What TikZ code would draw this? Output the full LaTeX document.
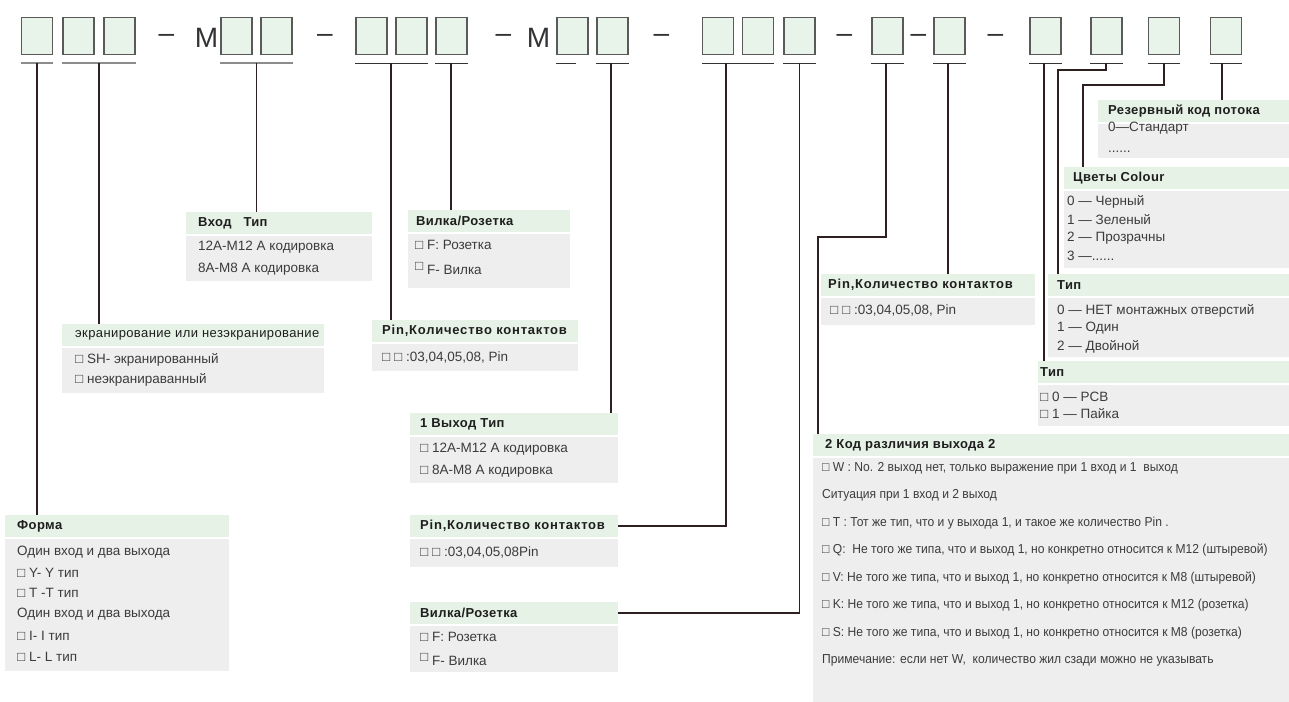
\documentclass[tikz,border=0pt]{standalone}
\usepackage{fontspec}
\setmainfont{Liberation Sans}
\newfontfamily\narrowfont[FakeStretch=0.93]{Liberation Sans}
\newfontfamily\headfont[LetterSpace=3]{Liberation Sans}
\newfontfamily\wideheadfont[LetterSpace=6]{Liberation Sans}
\usetikzlibrary{positioning}

\definecolor{cellfill}{HTML}{E8F3E9}
\definecolor{cellline}{HTML}{5A5A5A}
\definecolor{signc}{HTML}{333333}
\definecolor{ulg}{HTML}{8C8C8C}
\definecolor{uld}{HTML}{333333}
\definecolor{linkc}{HTML}{2E2020}
\definecolor{headc}{HTML}{E6F2E6}
\definecolor{bodyc}{HTML}{EEEEEE}
\definecolor{headtxt}{HTML}{1E1E1E}
\definecolor{bodytxt}{HTML}{3C3C3C}

% header strip, grey body and title of one panel
\newcommand{\infopanel}[7]{%
  \node[headbox,minimum width=#4pt] (#1) at (#2,#3) {};
  \node[bodybox,minimum width=#4pt,minimum height=#5pt] (#1b) at ([yshift=-1.5pt]#1.south west) {};
  \node[htext] (#1t) at ([xshift=#6pt]#1.west) {#7};}

\begin{document}
\begin{tikzpicture}[x=1pt,y=-1pt,
  cell/.style={draw=cellline,fill=cellfill,line width=1.1pt,minimum width=31pt,minimum height=37.5pt,inner sep=0pt},
  sign/.style={anchor=base,inner sep=0pt,text=signc,font=\fontsize{28}{30}\selectfont},
  ulgray/.style={draw=ulg,line width=1.8pt},
  uldark/.style={draw=uld,line width=1.3pt},
  link/.style={draw=linkc,line width=1.5pt},
  headbox/.style={fill=headc,anchor=north west,minimum height=22pt,inner sep=0pt},
  bodybox/.style={fill=bodyc,anchor=north west,inner sep=0pt},
  htext/.style={anchor=west,inner sep=0pt,text=headtxt,font=\headfont\bfseries\fontsize{13}{15}\selectfont},
  txt/.style={anchor=west,inner sep=0pt,text=bodytxt,font=\fontsize{13.5}{15}\selectfont},
  ntxt/.style={txt,font=\narrowfont\fontsize{13}{15}\selectfont}]
\useasboundingbox (0,0) rectangle (1289,701);

% code cells
\foreach \n/\x in {1/37,2/78.5,3/119.5,4/236.5,5/276.5,6/371.5,7/411.5,8/451.5,9/572.5,10/612.5,
  11/718,12/758,13/799.5,14/887.5,15/949.5,16/1045.5,17/1106.5,18/1164,19/1226}
  \node[cell] (b\n) at (\x,36) {};
\foreach \x [count=\i] in {166.5,325,503.5,661.5,844.5,918.5,995.5}
  \node[sign] (dash\i) at (\x,42) {–};
\node[sign] (m1) at (206.5,48) {M};
\node[sign] (m2) at (538.5,48) {M};

% underlines
\foreach \a/\b in {b1/b1,b2/b3,b4/b5}
  \draw[ulgray] ([yshift=-8pt]\a.south west) -- ([yshift=-8pt]\b.south east);
\foreach \a/\b in {b6/b7,b8/b8,b10/b10,b11/b12,b13/b13,b14/b14,b15/b15,b16/b16,b17/b17,b18/b18,b19/b19}
  \draw[uldark] ([yshift=-8pt]\a.south west) -- ([yshift=-8pt]\b.south east);
\draw[uldark] ([yshift=-8pt]b9.south west) -- +(20,0);

\foreach \n/\x in {1/37,2/99,4/256.5,6/391,8/451,10/611,11/726,13/799.5,14/886,15/948,16/1044,17/1106,18/1164,19/1222}
  \coordinate (t\n) at (\x,63);
\coordinate (k1) at (818,237);
\coordinate (k2) at (1058,70);
\coordinate (k3) at (1083,85);

% panels
\infopanel{vhod}{186}{212}{186}{45}{12}{Вход\ \ \ Тип}
\foreach \y/\t [count=\i] in {247/12A-M12 A кодировка,269/8A-M8 A кодировка}
  \node[txt] (vhod\i) at (198,\y) {\t};

\infopanel{vilkaT}{408}{210}{162}{54}{8}{Вилка/Розетка}
\node[txt] (vilkaT1) at (415,245) {□ F: Розетка};
\node[txt] (vilkaT2) at (415,269) {\raisebox{4pt}{□} F- Вилка};

\infopanel{ekran}{62}{324}{262}{45}{13}{\mdseries экранирование или незэкранирование}
\foreach \y/\t [count=\i] in {360/□ SH- экранированный,380/□ неэкранираванный}
  \node[txt] (ekran\i) at (75,\y) {\t};

\infopanel{pinL}{372}{320}{206}{27}{10}{\wideheadfont Pin,Количество контактов}
\node[txt] (pinL1) at (382,357) {□ □ :03,04,05,08, Pin};

\infopanel{vyhod}{410}{413}{208}{46}{10}{1 Выход Тип}
\foreach \y/\t [count=\i] in {449/□ 12A-M12 A кодировка,471/□ 8A-M8 A кодировка}
  \node[txt] (vyhod\i) at (420,\y) {\t};

\infopanel{pinM}{410}{515}{208}{28}{10}{\wideheadfont Pin,Количество контактов}
\node[txt] (pinM1) at (420,552) {□ □ :03,04,05,08Pin};

\infopanel{vilkaB}{410}{602}{208}{46}{10}{Вилка/Розетка}
\node[txt] (vilkaB1) at (420,637) {□ F: Розетка};
\node[txt] (vilkaB2) at (420,660) {\raisebox{4pt}{□} F- Вилка};

\infopanel{forma}{5}{515}{224}{132}{12}{Форма}
\foreach \y/\t [count=\i] in {552/Один вход и два выхода,573/□ Y- Y тип,593/□ T -T тип,
  614/Один вход и два выхода,636/□ I- I тип,657/□ L- L тип}
  \node[txt] (forma\i) at (17,\y) {\t};

\infopanel{pinR}{821}{274}{214}{27}{7}{\wideheadfont Pin,Количество контактов}
\node[txt] (pinR1) at (830,310) {□ □ :03,04,05,08, Pin};

\infopanel{rez}{1098}{100}{191}{34}{10}{Резервный код потока}
\node[txt] (rez1) at (1108,128) {0—Стандарт};
\node[txt] (rez2) at (1108,152) {......};

\infopanel{col}{1064}{167}{225}{77}{9}{Цветы Colour}
\node[txt] (col1) at (1067,202) {0 — Черный};
\node[txt] (col2) at (1067,220) {1 — Зеленый};
\node[txt] (col3) at (1067,238) {2 — Прозрачны};
\node[txt] (col4) at (1067,256) {3 —......};

\infopanel{typM}{1048}{274}{241}{59}{9}{Тип}
\foreach \y/\t [count=\i] in {311/0 — НЕТ монтажных отверстий,328/1 — Один,347/2 — Двойной}
  \node[txt] (typM\i) at (1057,\y) {\t};

\infopanel{typP}{1038}{361}{251}{41}{2}{Тип}
\foreach \y/\t [count=\i] in {397/□ 0 — PCB,414/□ 1 — Пайка}
  \node[txt] (typP\i) at (1040,\y) {\t};

\infopanel{kod}{813}{434}{476}{245}{12}{2 Код различия выхода 2}
\foreach \y/\t [count=\i] in {468/{□ W : No. 2 выход нет, только выражение при 1 вход и 1\ \ выход},
  495.5/{Ситуация при 1 вход и 2 выход},
  523/{□ T : Тот же тип, что и у выхода 1, и такое же количество Pin .},
  550.5/{□ Q:\ \ Не того же типа, что и выход 1, но конкретно относится к M12 (штыревой)},
  578/{□ V: Не того же типа, что и выход 1, но конкретно относится к M8 (штыревой)},
  605.5/{□ K: Не того же типа, что и выход 1, но конкретно относится к M12 (розетка)},
  633/{□ S: Не того же типа, что и выход 1, но конкретно относится к M8 (розетка)},
  660.5/{Примечание: если нет W,\ \ количество жил сзади можно не указывать}}
  \node[ntxt] (kod\i) at (822,\y) {\t};

% connectors
\draw[link] (t1) -- (t1 |- forma.north);
\draw[link] (t2) -- (t2 |- ekran.north);
\draw[link] (t4) -- (t4 |- vhod.north);
\draw[link] (t6) -- (t6 |- pinL.north);
\draw[link] (t8) -- (t8 |- vilkaT.north);
\draw[link] (t10) -- (t10 |- vyhod.north);
\draw[link] (t11) |- (pinM.east);
\draw[link] (t13) |- (vilkaB.east);
\draw[link] (t14) |- (k1) -- (k1 |- kod.north);
\draw[link] (t15) -- (t15 |- pinR.north);
\draw[link] (t16) -- (t16 |- typP.north);
\draw[link] (t17) |- (k2) -- (k2 |- typM.north);
\draw[link] (t18) |- (k3) -- (k3 |- col.north);
\draw[link] (t19) -- (t19 |- rez.north);
\end{tikzpicture}
\end{document}
